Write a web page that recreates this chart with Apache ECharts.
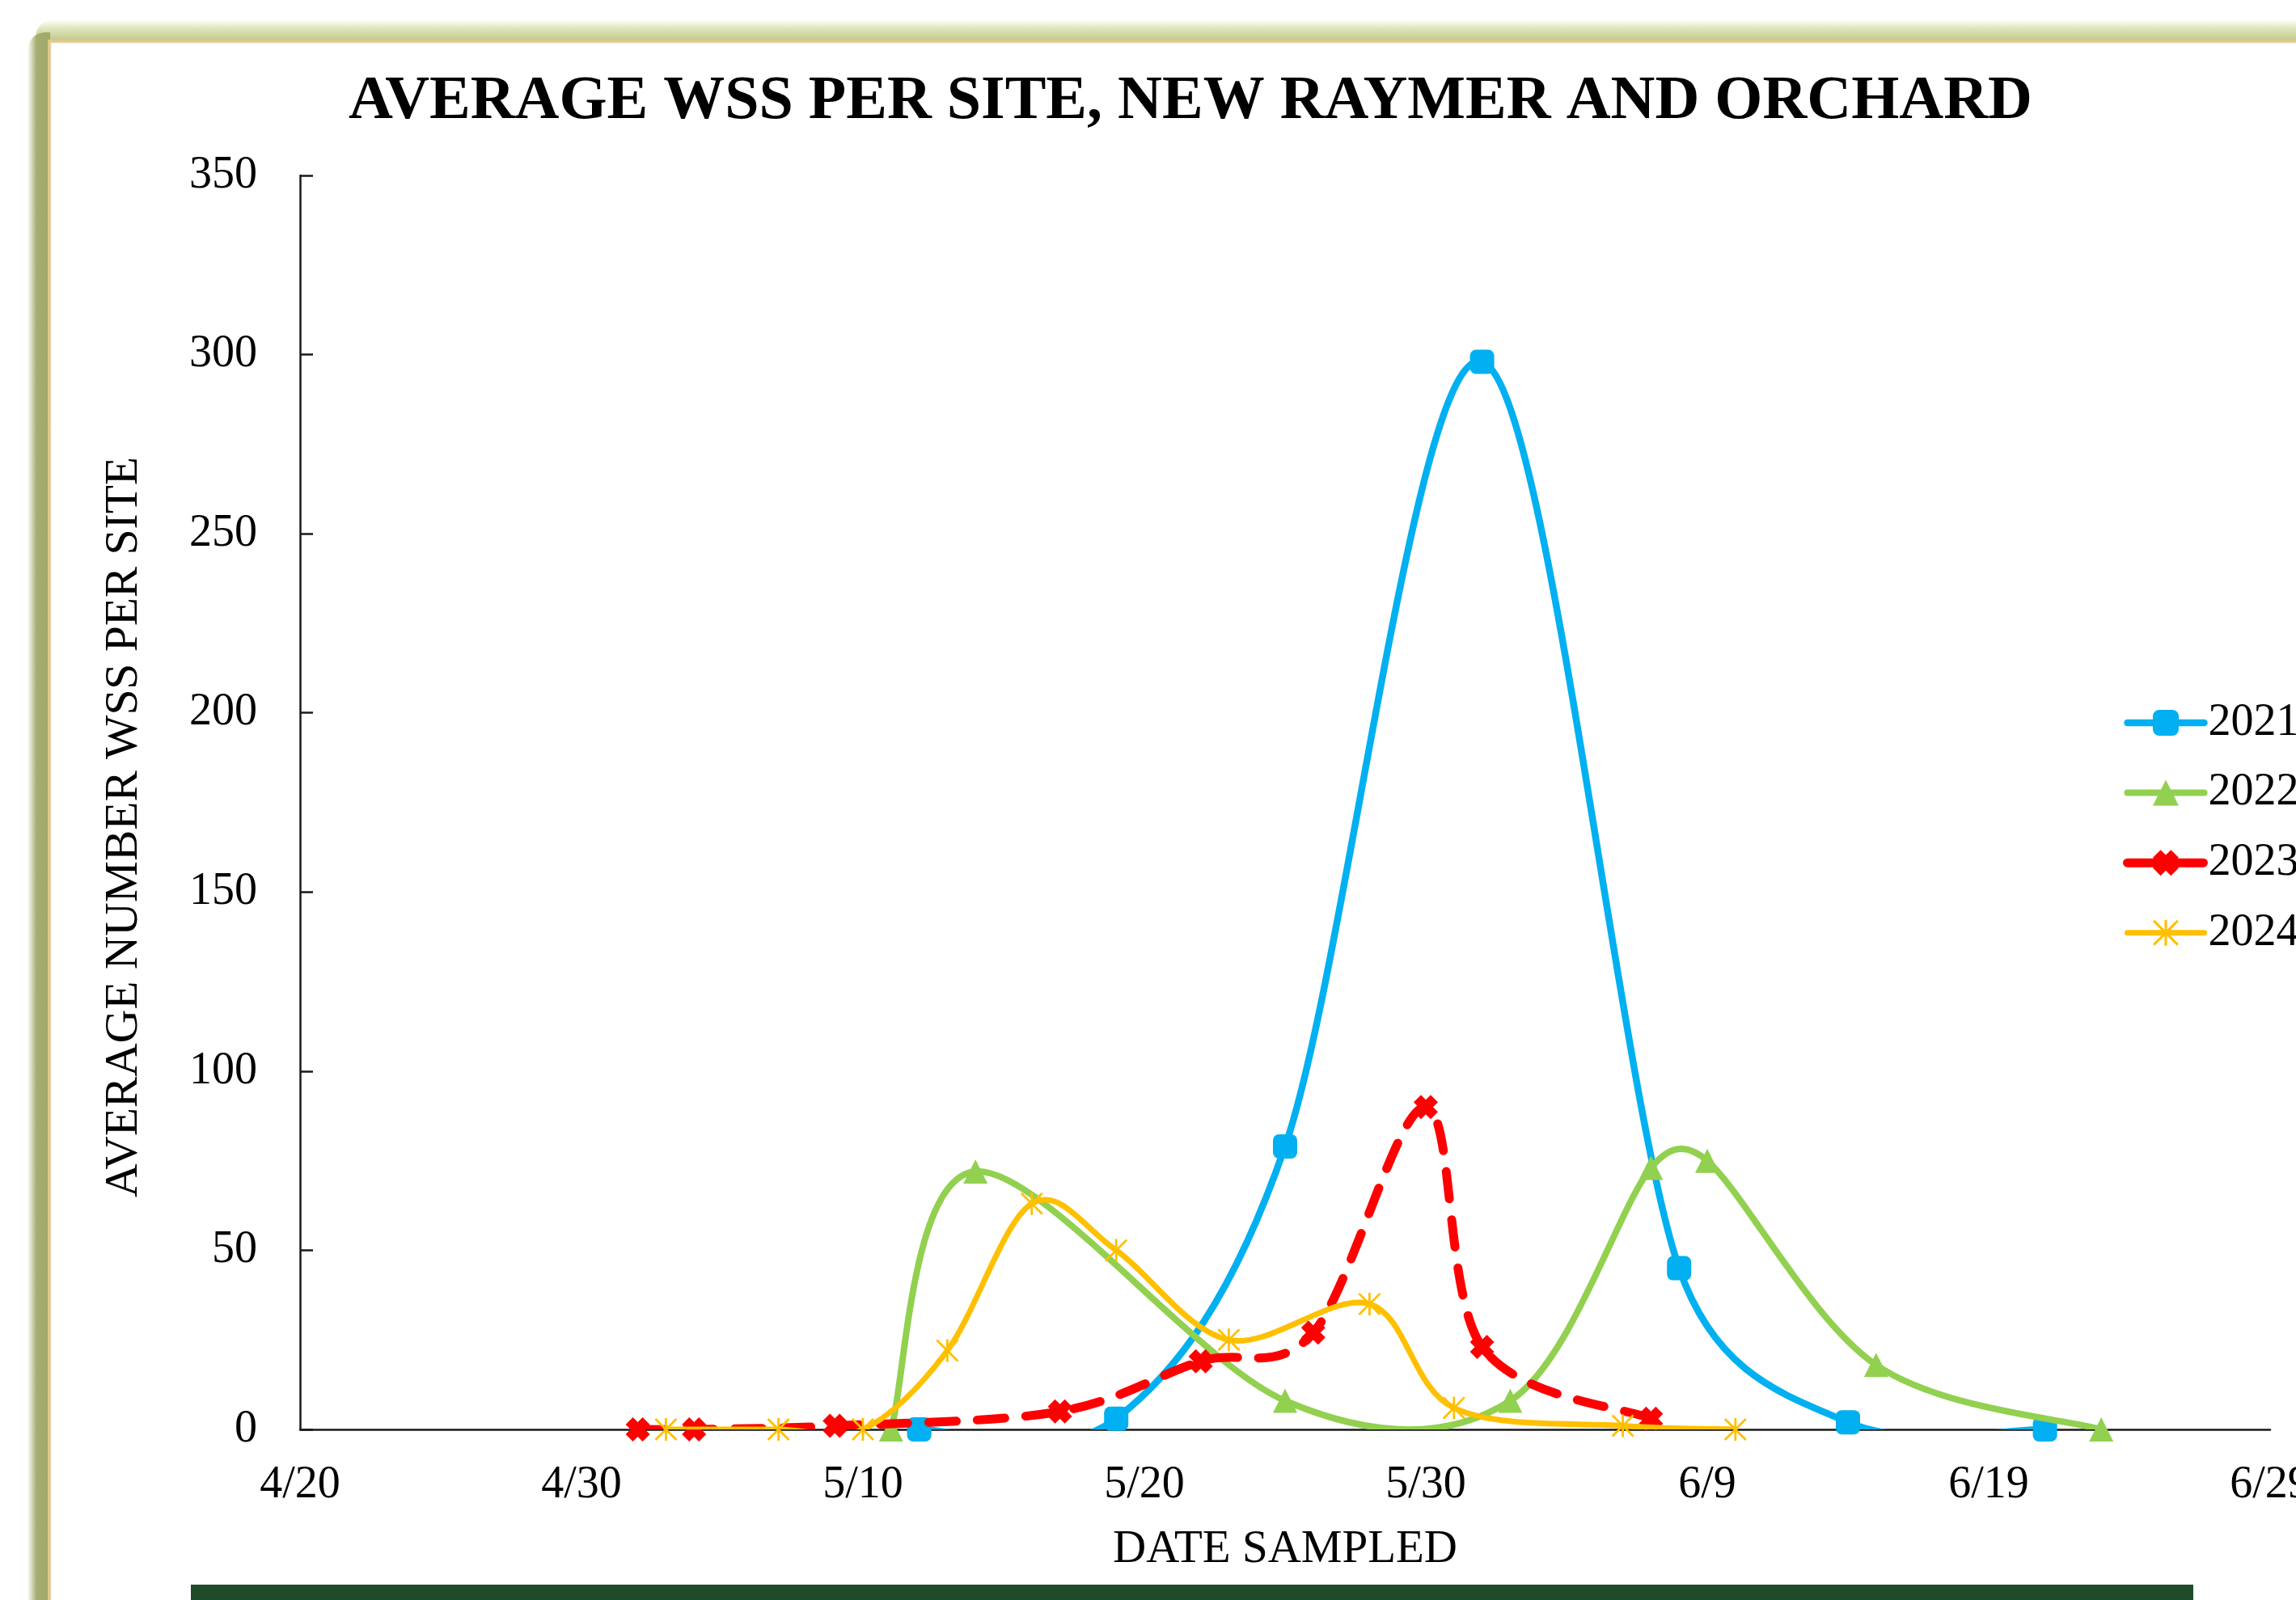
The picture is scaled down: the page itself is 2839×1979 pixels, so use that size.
<!DOCTYPE html>
<html>
<head>
<meta charset="utf-8">
<script src="https://cdn.jsdelivr.net/npm/echarts@6/dist/echarts.min.js"></script>
<style>
html,body{margin:0;padding:0;background:#ffffff;}
#chart{width:2839px;height:1979px;}
</style>
</head>
<body>
<div id="chart"></div>
<script>
// ---------------- DATA ----------------
const chartTitle = 'AVERAGE WSS PER SITE, NEW RAYMER AND ORCHARD';
const xAxisTitle = 'DATE SAMPLED';
const yAxisTitle = 'AVERAGE NUMBER WSS PER SITE';

const xTickLabels = ['4/20', '4/30', '5/10', '5/20', '5/30', '6/9', '6/19', '6/29'];
const yTickValues = [0, 50, 100, 150, 200, 250, 300, 350];

const seriesNames = ['2021', '2022', '2023', '2024'];

const dates2021 = ['5/12', '5/19', '5/25', '6/1', '6/8', '6/14', '6/21'];
const values2021 = [0, 3, 79, 298, 45, 2, 0];

const dates2022 = ['5/11', '5/14', '5/25', '6/2', '6/7', '6/9', '6/15', '6/23'];
const values2022 = [0, 72, 8, 8, 73, 75, 18, 0];

const dates2023 = ['5/2', '5/4', '5/9', '5/17', '5/22', '5/26', '5/30', '6/1', '6/7'];
const values2023 = [0, 0, 1, 5, 19, 27, 90, 23, 3];

const dates2024 = ['5/3', '5/7', '5/10', '5/13', '5/16', '5/19', '5/23', '5/28', '5/31', '6/6', '6/10'];
const values2024 = [0, 0, 0, 22, 63, 50, 25, 35, 6, 1, 0];

// ---------------- HELPERS ----------------
const YEAR = 2021;
function parseMD(s) { const p = s.split('/').map(Number); return Date.UTC(YEAR, p[0] - 1, p[1]); }
const baseDay = parseMD(xTickLabels[0]);
function dayOf(s) { return Math.round((parseMD(s) - baseDay) / 86400000); }
function pairs(dates, vals) { return dates.map((d, i) => [dayOf(d), vals[i]]); }
const xMax = dayOf(xTickLabels[xTickLabels.length - 1]);
const xStep = dayOf(xTickLabels[1]);

const SERIF = '"Liberation Serif", "Times New Roman", serif';

const xSymbol = 'path://M3,0L5,2L7,0L10,3L8,5L10,7L7,10L5,8L3,10L0,7L2,5L0,3Z';
const starSymbol = 'path://M9,0H11V20H9Z M0,1.4L1.4,0L20,18.6L18.6,20Z M18.6,0L20,1.4L1.4,20L0,18.6Z';

const styles = [
  { color: '#00B0F0', width: 8.5, dash: null, symbol: 'roundRect', size: 30 },
  { color: '#92D050', width: 8, dash: null, symbol: 'triangle', size: 30 },
  { color: '#FF0000', width: 11, dash: [34, 26], symbol: xSymbol, size: 30 },
  { color: '#FFC000', width: 7, dash: null, symbol: starSymbol, size: 28 }
];

const allData = [
  pairs(dates2021, values2021),
  pairs(dates2022, values2022),
  pairs(dates2023, values2023),
  pairs(dates2024, values2024)
];

// Spreadsheet-style smoothed curve (Bezier through the points), drawn in pixel space
// after converting each data point with the chart's own axes (api.coord).
function dist(a, b) { const dx = b[0] - a[0], dy = b[1] - a[1]; return Math.sqrt(dx * dx + dy * dy); }
function makeRenderer(data, st) {
  return function (params, api) {
    if (params.dataIndex !== 0) return null;
    const pts = data.map(p => api.coord(p));
    let d = 'M' + pts[0][0] + ' ' + pts[0][1];
    for (let i = 0; i < pts.length - 1; i++) {
      const p1 = pts[i], p2 = pts[i + 1];
      const p0 = i > 0 ? pts[i - 1] : p1;
      const p3 = i + 2 < pts.length ? pts[i + 2] : p2;
      const d12 = dist(p1, p2);
      const d02 = dist(p0, p2);
      const d13 = dist(p1, p3);
      let f = 1 / 6, g = 1 / 6;
      if (d02 > 0 && d02 / 6 > d12 / 2) f = d12 / (2 * d02);
      if (d13 > 0 && d13 / 6 > d12 / 2) g = d12 / (2 * d13);
      const c1x = p1[0] + f * (p2[0] - p0[0]), c1y = p1[1] + f * (p2[1] - p0[1]);
      const c2x = p2[0] - g * (p3[0] - p1[0]), c2y = p2[1] - g * (p3[1] - p1[1]);
      d += ' C' + c1x + ' ' + c1y + ' ' + c2x + ' ' + c2y + ' ' + p2[0] + ' ' + p2[1];
    }
    const style = { stroke: st.color, lineWidth: st.width, fill: 'none', lineCap: 'round', lineJoin: 'round' };
    if (st.dash) style.lineDash = st.dash;
    return { type: 'path', shape: { pathData: d }, style: style };
  };
}

const series = [];
allData.forEach((data, k) => {
  const st = styles[k];
  series.push({
    name: seriesNames[k] + ' curve', type: 'custom', data: data,
    encode: { x: 0, y: 1 }, renderItem: makeRenderer(data, st), clip: true, silent: true,
    z: 2 + k * 2
  });
  series.push({
    name: seriesNames[k], type: 'line', data: data, smooth: false,
    symbol: st.symbol, symbolSize: st.size, showAllSymbol: true, clip: false,
    lineStyle: { color: st.color, width: st.width, opacity: 0 },
    itemStyle: { color: st.color },
    z: 3 + k * 2
  });
});

const legendData = seriesNames.map((n, k) => {
  const st = styles[k];
  const ls = { color: st.color, width: st.width, opacity: 1, cap: 'round' };
  ls.type = st.dash ? st.dash : 'solid';
  return { name: n, lineStyle: ls, itemStyle: { color: st.color } };
});

const chart = echarts.init(document.getElementById('chart'), null, { renderer: 'canvas' });

const option = {
  animation: false,
  backgroundColor: '#ffffff',
  graphic: [
    { type: 'rect', z: -10, shape: { x: 44, y: 24, width: 2900, height: 28, r: [22, 0, 0, 0] },
      style: { fill: new echarts.graphic.LinearGradient(0, 0, 0, 1, [
        { offset: 0, color: 'rgba(225,232,190,0)' },
        { offset: 0.4, color: '#dfe5bb' },
        { offset: 1, color: '#bcc585' }]) } },
    { type: 'rect', z: -9, shape: { x: 34, y: 40, width: 28, height: 2000, r: [22, 0, 0, 0] },
      style: { fill: new echarts.graphic.LinearGradient(0, 0, 1, 0, [
        { offset: 0, color: 'rgba(165,173,110,0)' },
        { offset: 0.4, color: '#a5ad70' },
        { offset: 1, color: '#9fa76a' }]) } },
    { type: 'rect', z: -8, shape: { x: 59, y: 49, width: 2900, height: 4 }, style: { fill: '#e5c884' } },
    { type: 'rect', z: -8, shape: { x: 59, y: 49, width: 4, height: 2000 }, style: { fill: '#e5c884' } },
    { type: 'rect', z: -7, shape: { x: 63, y: 53, width: 2900, height: 2000 }, style: { fill: '#ffffff', stroke: '#e3e7ee', lineWidth: 1 } },
    { type: 'rect', z: -6, shape: { x: 236, y: 1960, width: 2476, height: 30 }, style: { fill: '#1f4b2a' } },
    { type: 'text', z: 10, x: 1472, y: 126,
      style: { text: chartTitle, font: 'bold 76px ' + SERIF, fill: '#000000', textAlign: 'center', textVerticalAlign: 'middle', verticalAlign: 'middle' } },
    { type: 'text', z: 10, x: 154, y: 1023, rotation: Math.PI / 2,
      style: { text: yAxisTitle, font: '57.5px ' + SERIF, fill: '#000000', textAlign: 'center', textVerticalAlign: 'middle', verticalAlign: 'middle' } }
  ],
  grid: { left: 371, right: 32, top: 217, bottom: 211, containLabel: false, outerBoundsMode: 'none' },
  legend: {
    orient: 'vertical',
    left: 2625,
    top: 866,
    padding: 0,
    itemWidth: 95,
    itemHeight: 40,
    itemGap: 30.6,
    data: legendData,
    textStyle: { fontFamily: SERIF, fontSize: 56, color: '#000000', lineHeight: 56 }
  },
  xAxis: {
    type: 'value',
    min: 0,
    max: xMax,
    interval: xStep,
    name: xAxisTitle,
    nameLocation: 'middle',
    nameGap: 121,
    nameTextStyle: { fontFamily: SERIF, fontSize: 57, color: '#000000' },
    axisLine: { show: true, lineStyle: { color: '#1a1a1a', width: 2.5 } },
    axisTick: { show: false },
    splitLine: { show: false },
    axisLabel: {
      margin: 41,
      fontFamily: SERIF, fontSize: 56, color: '#000000',
      formatter: function (v) { const i = Math.round(v / xStep); return xTickLabels[i] || ''; }
    }
  },
  yAxis: {
    type: 'value',
    min: yTickValues[0],
    max: yTickValues[yTickValues.length - 1],
    interval: yTickValues[1] - yTickValues[0],
    axisLine: { show: true, lineStyle: { color: '#1a1a1a', width: 2.5 } },
    axisTick: { show: true, inside: true, length: 16, lineStyle: { color: '#1a1a1a', width: 2.5 } },
    splitLine: { show: false },
    axisLabel: { margin: 53, fontFamily: SERIF, fontSize: 56, color: '#000000' }
  },
  series: series
};

chart.setOption(option);
</script>
</body>
</html>
